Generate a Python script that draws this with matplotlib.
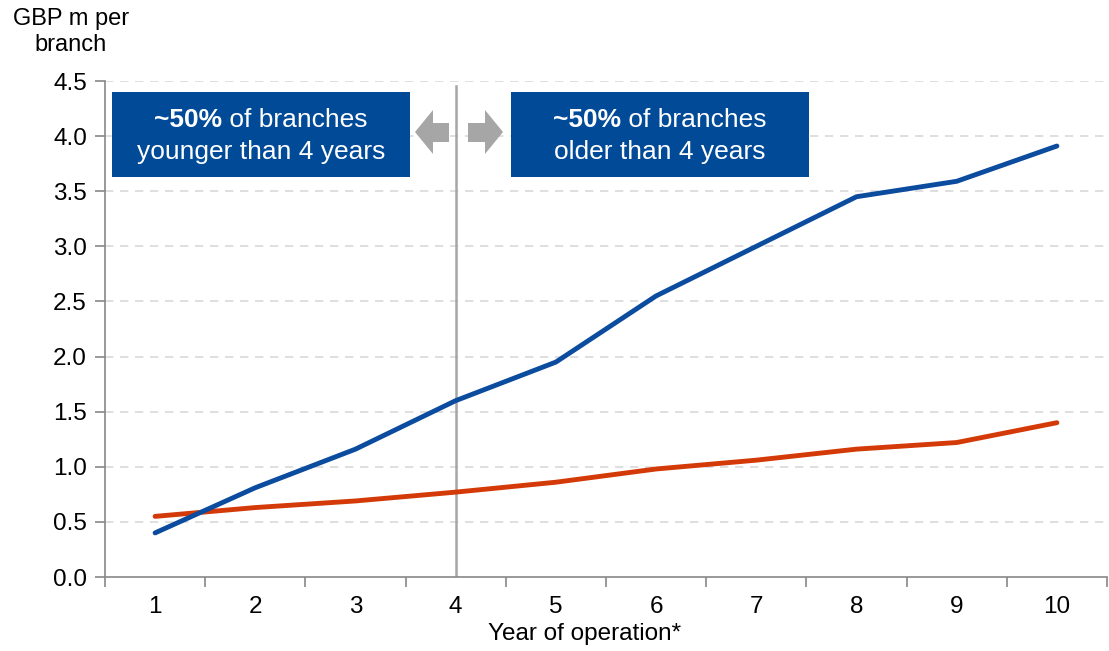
import matplotlib.pyplot as plt
from matplotlib.patches import Rectangle, Polygon

plt.rcParams['font.family'] = ['Liberation Sans', 'DejaVu Sans']

years = [1, 2, 3, 4, 5, 6, 7, 8, 9, 10]
blue_vals = [0.40, 0.81, 1.16, 1.60, 1.95, 2.55, 3.00, 3.45, 3.59, 3.91]
red_vals = [0.55, 0.63, 0.69, 0.77, 0.86, 0.98, 1.06, 1.16, 1.22, 1.40]
y_ticks = [0.0, 0.5, 1.0, 1.5, 2.0, 2.5, 3.0, 3.5, 4.0, 4.5]

W, H = 1109, 651
BOX = '#004A97'
ARROW = '#A6A6A6'


def px(x, y):
    # pixel position -> figure fraction
    return (x / W, 1 - y / H)


fig = plt.figure(figsize=(W / 100, H / 100), dpi=100)
ax = fig.add_axes([105 / W, 1 - 577 / H, (1107 - 105) / W, (577 - 81) / H])

for v in y_ticks[1:]:
    ax.axhline(v, color='#D9D9D9', lw=1.2, ls=(0, (5, 4)), zorder=0)

ax.axvline(4, color='#A6A6A6', lw=1.8, ymax=0.99, zorder=1)

ax.plot(years, red_vals, color='#D33A08', lw=3.5, solid_capstyle='round', zorder=3)
ax.plot(years, blue_vals, color='#0B4C9E', lw=3.5, solid_capstyle='round', zorder=3)

ax.set_xlim(0.5, 10.5)
ax.set_ylim(0, 4.5)
ax.set_yticks(y_ticks)
ax.set_yticklabels([f'{v:.1f}' for v in y_ticks])
ax.set_xticks(years)
ax.set_xticks([x + 0.5 for x in [0] + years], minor=True)
ax.tick_params(axis='x', which='major', length=0, pad=14, labelsize=17.5)
ax.tick_params(axis='x', which='minor', length=7, width=1.2, color='#888888')
ax.tick_params(axis='y', length=7, width=1.2, color='#888888', labelsize=17.5, pad=6)
for s in ['top', 'right']:
    ax.spines[s].set_visible(False)
for s in ['left', 'bottom']:
    ax.spines[s].set_color('#888888')
    ax.spines[s].set_linewidth(1.2)

fig.text(*px(71, 32), 'GBP m per\nbranch', ha='center', va='center', fontsize=17,
         linespacing=1.2)
fig.text(*px(585, 634), 'Year of operation*', ha='center', va='center', fontsize=17.5)

# blue call-out boxes
for x0, x1 in [(112, 410), (511, 809)]:
    a = px(x0, 177)
    b = px(x1, 92)
    fig.patches.append(Rectangle(a, b[0] - a[0], b[1] - a[1], transform=fig.transFigure,
                                 facecolor=BOX, edgecolor='none', zorder=5))

for split, second in [(222, 'younger than 4 years'), (621, 'older than 4 years')]:
    fig.text(*px(split, 120), '~50%', ha='right', va='center', fontsize=19,
             fontweight='bold', color='white', zorder=6)
    fig.text(*px(split, 120), ' of branches', ha='left', va='center', fontsize=19,
             color='white', zorder=6)
    centre = 261 if second.startswith('y') else 660
    fig.text(*px(centre, 152), second, ha='center', va='center', fontsize=19,
             color='white', zorder=6)

# gray arrows either side of year 4
left_arrow = [(415, 132), (433, 110), (433, 123), (449, 123), (449, 142), (433, 142), (433, 154)]
right_arrow = [(503, 132), (485, 110), (485, 123), (468, 123), (468, 142), (485, 142), (485, 154)]
for pts in [left_arrow, right_arrow]:
    fig.patches.append(Polygon([px(*p) for p in pts], closed=True, transform=fig.transFigure,
                               facecolor=ARROW, edgecolor='none', zorder=5))

fig.savefig('out.png', dpi=100)
